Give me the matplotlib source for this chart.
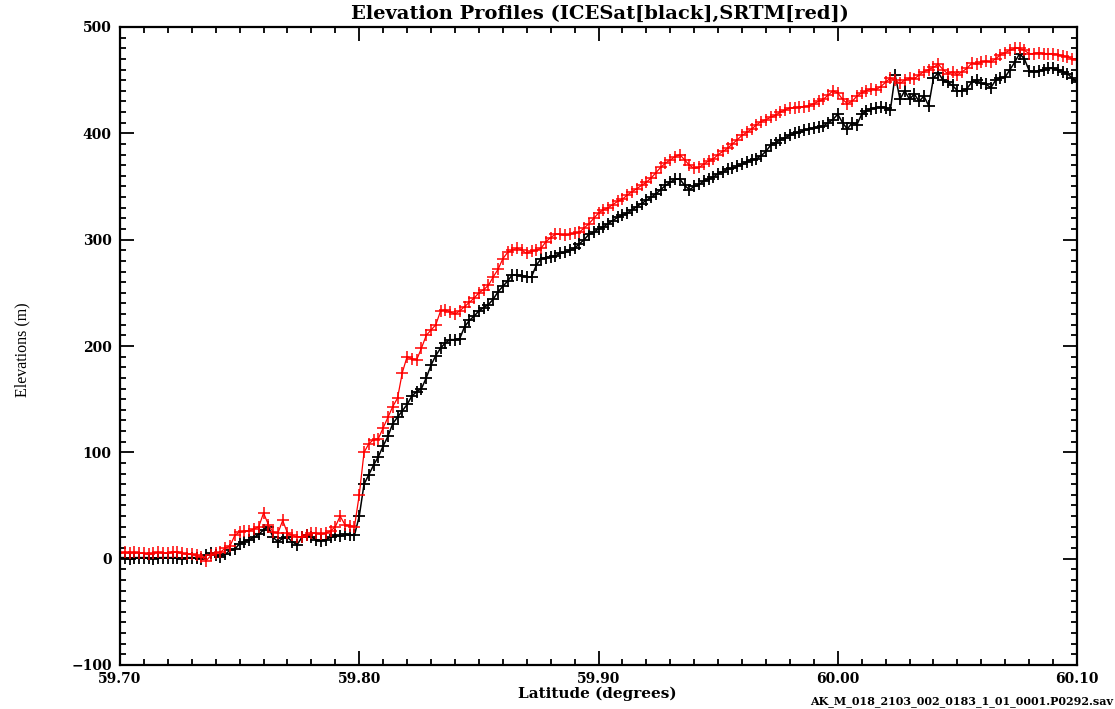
#!/usr/bin/env python3
"""Elevation profiles along an ICESat track: ICESat (black) vs SRTM (red)."""

import matplotlib

matplotlib.use("Agg")
import matplotlib.pyplot as plt
import numpy as np
from matplotlib.ticker import MultipleLocator, FormatStrFormatter


# latitude of the footprints: 59.700 .. 60.100 every 0.002 deg
LAT_START = 59.70
LAT_STEP = 0.002

ICESAT_ELEV = [
    1, 1, 0, 1, 1, 1, 1, 0, 1, 1,
    1, 1, 1, 0, 1, 1, 1, 0, 3, 5,
    3, 2, 4, 8, 9, 14, 16, 18, 20, 23,
    27, 30, 20, 16, 19, 20, 16, 13, 20, 22,
    20, 18, 17, 18, 20, 22, 21, 23, 22, 22,
    40, 70, 79, 88, 96, 106, 115, 127, 133, 139,
    145, 153, 157, 160, 170, 182, 191, 198, 203, 206,
    206, 207, 218, 224, 228, 233, 236, 239, 244, 251,
    256, 261, 267, 267, 266, 265, 265, 276, 282, 283,
    284, 285, 287, 288, 290, 292, 296, 300, 305, 307,
    310, 312, 315, 318, 321, 323, 325, 328, 331, 334,
    337, 340, 343, 347, 351, 354, 357, 357, 351, 347,
    350, 352, 355, 357, 359, 362, 364, 366, 367, 369,
    371, 373, 375, 376, 379, 383, 389, 391, 394, 396,
    398, 400, 401, 403, 404, 405, 406, 407, 410, 413,
    418, 410, 404, 410, 408, 418, 421, 423, 424, 425,
    424, 422, 455, 432, 440, 432, 437, 430, 435, 426,
    452, 457, 450, 448, 445, 440, 440, 442, 448, 450,
    447, 446, 443, 450, 452, 453, 460, 467, 475, 470,
    459, 458, 459, 460, 461, 461, 460, 458, 456, 452,
    448,
]

SRTM_ELEV = [
    5, 6, 5, 6, 5, 5, 4, 5, 6, 5,
    5, 6, 6, 5, 4, 4, 3, 2, -2, 3,
    5, 6, 10, 12, 22, 25, 26, 26, 28, 30,
    43, 32, 25, 24, 36, 24, 22, 20, 20, 22,
    24, 24, 23, 24, 26, 30, 40, 32, 31, 30,
    60, 100, 108, 112, 113, 123, 133, 143, 151, 175,
    190, 188, 187, 198, 210, 215, 220, 233, 234, 232,
    230, 233, 237, 241, 245, 250, 253, 257, 265, 272,
    282, 288, 290, 292, 290, 287, 289, 290, 292, 298,
    302, 305, 305, 304, 305, 306, 307, 311, 315, 320,
    325, 328, 330, 333, 336, 338, 342, 345, 348, 351,
    354, 358, 363, 368, 372, 375, 378, 380, 375, 370,
    367, 368, 371, 374, 376, 380, 383, 386, 390, 394,
    398, 401, 404, 408, 411, 413, 415, 417, 420, 422,
    424, 424, 425, 425, 426, 428, 430, 432, 436, 440,
    438, 432, 428, 430, 435, 438, 440, 442, 441, 444,
    448, 452, 450, 447, 450, 452, 451, 455, 458, 460,
    462, 465, 460, 456, 458, 455, 458, 461, 466, 465,
    467, 468, 467, 470, 474, 476, 478, 480, 480, 478,
    475, 475, 476, 475, 475, 475, 474, 473, 472, 470,
    469,
]

TITLE = "Elevation Profiles (ICESat[black],SRTM[red])"
XLABEL = "Latitude (degrees)"
YLABEL = "Elevations (m)"
FOOTER = "AK_M_018_2103_002_0183_1_01_0001.P0292.sav"

FONT = "DejaVu Serif"


def main() -> int:
    lat = np.round(LAT_START + LAT_STEP * np.arange(len(ICESAT_ELEV)), 4)

    fig = plt.figure(figsize=(11.15, 7.09), dpi=100)
    fig.patch.set_facecolor("white")
    ax = fig.add_axes([120 / 1115, 1 - 665 / 709, (1077 - 120) / 1115, (665 - 27) / 709])

    ax.plot(lat, ICESAT_ELEV, color="black", linewidth=1.1, marker="+",
            markersize=8, markeredgewidth=1.3)
    ax.plot(lat, SRTM_ELEV, color="red", linewidth=0.9, marker="+",
            markersize=8, markeredgewidth=1.1)

    ax.set_xlim(59.70, 60.10)
    ax.set_ylim(-100, 500)
    ax.xaxis.set_major_locator(MultipleLocator(0.1))
    ax.xaxis.set_minor_locator(MultipleLocator(0.01))
    ax.yaxis.set_major_locator(MultipleLocator(100))
    ax.yaxis.set_minor_locator(MultipleLocator(10))
    ax.xaxis.set_major_formatter(FormatStrFormatter("%.2f"))
    ax.tick_params(which="both", direction="in", top=True, right=True, width=1.3)
    ax.tick_params(which="major", length=10)
    ax.tick_params(which="minor", length=4.5)
    ax.tick_params(axis="x", which="major", pad=5)
    ax.tick_params(axis="y", which="major", pad=6)
    for label in ax.get_xticklabels() + ax.get_yticklabels():
        label.set_fontfamily(FONT)
        label.set_fontweight("bold")
        label.set_fontsize(10)
    for spine in ax.spines.values():
        spine.set_linewidth(1.6)

    fig.text(0.538, 1 - 14 / 709, TITLE, ha="center", va="center",
             family=FONT, weight="bold", fontsize=14)
    fig.text(597 / 1115, 1 - 694 / 709, XLABEL, ha="center", va="center",
             family=FONT, weight="bold", fontsize=11)
    fig.text(1113 / 1115, 1 - 704 / 709, FOOTER, ha="right", va="baseline",
             family=FONT, weight="bold", fontsize=8)
    fig.text(22 / 1115, 1 - 350 / 709, YLABEL, ha="center", va="center",
             rotation=90, family="Liberation Serif", fontsize=11.5)

    fig.savefig("out.png", dpi=100)
    plt.close(fig)
    return 0


if __name__ == "__main__":
    raise SystemExit(main())
